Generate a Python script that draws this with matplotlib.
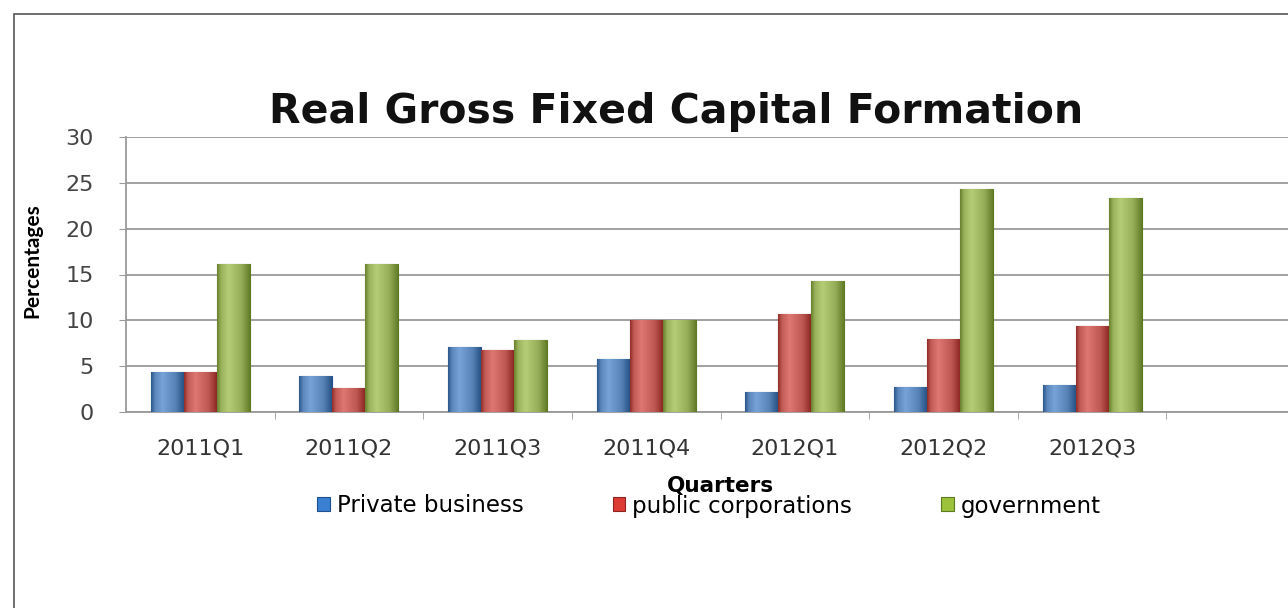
import matplotlib
matplotlib.use("Agg")
import matplotlib.pyplot as plt
import matplotlib.colors as mcolors
import numpy as np
from matplotlib.patches import Rectangle

# values
quarters = ["2011Q1", "2011Q2", "2011Q3", "2011Q4", "2012Q1", "2012Q2", "2012Q3"]
private_business = [4.3, 3.9, 7.1, 5.8, 2.2, 2.7, 2.9]
public_corporations = [4.3, 2.6, 6.7, 10.0, 10.7, 7.9, 9.4]
government = [16.1, 16.2, 7.8, 10.0, 14.3, 24.4, 23.4]
yticks = [0, 5, 10, 15, 20, 25, 30]

series = [
    ("Private business", private_business, "#3a7fd2", "#1f4f8f"),
    ("public corporations", public_corporations, "#dc3c34", "#8e2420"),
    ("government", government, "#9bc23a", "#5c7a1f"),
]

plt.rcParams["font.family"] = ["DejaVu Sans"]

W, H = 1288, 608
fig = plt.figure(figsize=(W / 100, H / 100), dpi=100)

# outer border of the original chart area (cut off at right/bottom)
fig.patches.append(Rectangle((14 / W, -0.1), 1.2, (H - 14) / H + 0.1,
                             transform=fig.transFigure, fill=False,
                             edgecolor="#555555", linewidth=1.2))

ax = fig.add_axes([126 / W, 1 - 411.7 / H, (1315 - 126) / W, (411.7 - 137.3) / H])


def shade_bars(bars, color):
    # cylinder-like horizontal shading, clipped to each bar
    base = np.array(mcolors.to_rgb(color))
    dark = base * 0.62
    light = base + (1 - base) * 0.35
    t = np.linspace(0, 1, 64)
    g = np.interp(t, [0, 0.12, 0.35, 0.75, 1], [0.1, 0.6, 0.9, 0.55, 0.05])
    img = dark[None, :] + (light - dark)[None, :] * g[:, None]
    img = img[None, :, :]
    for b in bars:
        x0, y0 = b.get_x(), b.get_y()
        im = ax.imshow(img, extent=(x0, x0 + b.get_width(), y0, y0 + b.get_height()),
                       aspect="auto", zorder=3.5, interpolation="bilinear")
        im.set_clip_path(b)


x = np.arange(len(quarters))
w = 0.222
for k, (name, vals, col, edge) in enumerate(series):
    bars = ax.bar(x + (k - 1) * w, vals, width=w, color=col, edgecolor=edge,
                  linewidth=0.8, label=name, zorder=3)
    shade_bars(bars, col)

ax.set_xlim(-0.5, 7.5)
ax.set_ylim(0, 30)
ax.set_yticks(yticks)
ax.yaxis.grid(True, color="#9a9a9a", linewidth=1.3, zorder=0)
ax.set_axisbelow(True)

ax.set_xticks(x)
ax.set_xticklabels(quarters, fontsize=16, color="#333333")
ax.set_xticks(np.arange(0.5, 8, 1), minor=True)
ax.tick_params(axis="x", which="major", length=0, pad=19)
ax.tick_params(axis="x", which="minor", length=5, color="#9a9a9a")
ax.tick_params(axis="y", length=5, color="#9a9a9a", labelsize=16,
               labelcolor="#444444", pad=18)

for s in ["top", "right"]:
    ax.spines[s].set_visible(False)
for s in ["left", "bottom"]:
    ax.spines[s].set_color("#9a9a9a")
    ax.spines[s].set_linewidth(1.3)

ax.set_ylabel("Percentages", fontsize=15, fontweight="bold", family="Lato")
ax.yaxis.set_label_coords(-0.070, 0.55)
ax.set_xlabel("Quarters", fontsize=15.5, fontweight="bold", labelpad=13)

fig.text(676 / W, 1 - 112 / H, "Real Gross Fixed Capital Formation",
         fontsize=29.5, fontweight="bold", ha="center", va="center", color="#111111")

fig.legend(loc="center", bbox_to_anchor=(709 / W, 1 - 506 / H), ncol=3,
           frameon=False, fontsize=16.5, handlelength=0.55, handleheight=0.55,
           handletextpad=0.3, columnspacing=3.9)

fig.savefig("out.png", dpi=100)
